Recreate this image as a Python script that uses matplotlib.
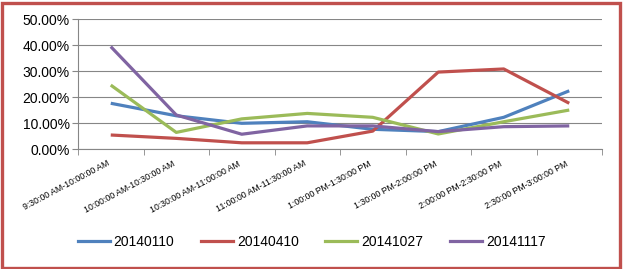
import matplotlib
matplotlib.use("Agg")
import matplotlib.pyplot as plt
from matplotlib.patches import Rectangle
from matplotlib.ticker import FuncFormatter, FixedLocator
from matplotlib.lines import Line2D

plt.rcParams['font.family'] = ['Liberation Sans', 'DejaVu Sans']

categories = ["9:30:00 AM-10:00:00 AM", "10:00:00 AM-10:30:00 AM", "10:30:00 AM-11:00:00 AM",
              "11:00:00 AM-11:30:00 AM", "1:00:00 PM-1:30:00 PM", "1:30:00 PM-2:00:00 PM",
              "2:00:00 PM-2:30:00 PM", "2:30:00 PM-3:00:00 PM"]
series_names = ["20140110", "20140410", "20141027", "20141117"]
s20140110 = [0.177, 0.129, 0.100, 0.106, 0.077, 0.068, 0.123, 0.225]
s20140410 = [0.055, 0.042, 0.025, 0.025, 0.070, 0.297, 0.309, 0.177]
s20141027 = [0.247, 0.065, 0.117, 0.138, 0.123, 0.059, 0.106, 0.151]
s20141117 = [0.395, 0.132, 0.058, 0.090, 0.090, 0.068, 0.087, 0.090]
y_ticks = [0.0, 0.1, 0.2, 0.3, 0.4, 0.5]

colors = ["#4F81BD", "#C0504D", "#9BBB59", "#8064A2"]
data = [s20140110, s20140410, s20141027, s20141117]

fig = plt.figure(figsize=(6.23, 2.69), dpi=100)
ax = fig.add_axes([78/623, 1-149.3/269, 524/623, 130/269])

x = list(range(len(categories)))
for vals, c, n in zip(data, colors, series_names):
    ax.plot(x, vals, color=c, lw=2.3, label=n, solid_capstyle='butt', solid_joinstyle='round')

ax.set_xlim(-0.5, len(categories) - 0.5)
ax.set_ylim(0, 0.5)
ax.set_yticks(y_ticks)
ax.yaxis.set_major_formatter(FuncFormatter(lambda v, p: f"{v*100:.2f}%"))
ax.grid(axis='y', color='#868686', lw=0.8)
ax.set_axisbelow(True)
for s in ['top', 'right']:
    ax.spines[s].set_visible(False)
for s in ['left', 'bottom']:
    ax.spines[s].set_color('#868686')
    ax.spines[s].set_linewidth(0.8)
ax.tick_params(axis='y', length=4, color='#868686', labelsize=10, pad=2)

ax.set_xticks(x)
ax.set_xticklabels(categories, rotation=28, ha='right', va='top', fontsize=6.3)
ax.tick_params(axis='x', which='major', length=0, pad=7)
ax.xaxis.set_minor_locator(FixedLocator([i - 0.5 for i in range(len(categories) + 1)]))
ax.tick_params(axis='x', which='minor', length=4, color='#868686')

handles = [Line2D([], [], color=c, lw=2.3) for c in colors]
fig.legend(handles, series_names, loc='center', bbox_to_anchor=(0.5, 1-242/269),
           ncol=4, frameon=False, fontsize=10, handlelength=2.3, handletextpad=0.3,
           columnspacing=1.9)

fig.patches.append(Rectangle((1.5/623, 1.5/269), 1-4.5/623, 1-4/269, transform=fig.transFigure,
                             fill=False, edgecolor='#C0504D', lw=2.4))

fig.savefig("out.png", dpi=100)
